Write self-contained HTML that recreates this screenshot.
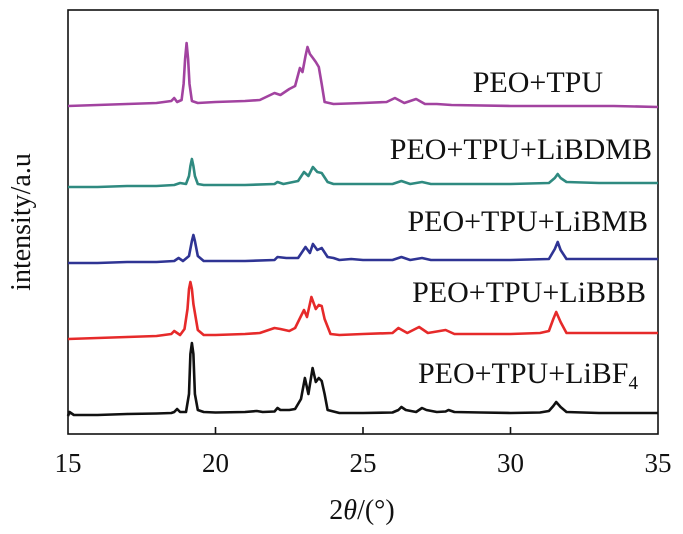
<!DOCTYPE html>
<html><head><meta charset="utf-8">
<style>
html,body{margin:0;padding:0;background:#fff;}
svg{display:block;font-family:"Liberation Serif",serif;}
</style></head>
<body>
<svg id="chart" width="683" height="534" viewBox="0 0 683 534">
  <rect x="68" y="10" width="590" height="424" fill="none" stroke="#111" stroke-width="1.6"/>
  <g id="ticks"></g>
  <g id="series"></g>
  <g font-size="30" fill="#111" text-anchor="end">
    <text x="603" y="92">PEO+TPU</text>
    <text x="652" y="159">PEO+TPU+LiBDMB</text>
    <text x="648" y="231">PEO+TPU+LiBMB</text>
    <text x="646" y="302">PEO+TPU+LiBBB</text>
    <text x="638" y="383">PEO+TPU+LiBF<tspan font-size="19" dy="6">4</tspan></text>
  </g>
  <text x="362" y="519" font-size="28" text-anchor="middle" fill="#111">2<tspan font-style="italic">θ</tspan>/(°)</text>
  <text transform="translate(30,222) rotate(-90)" font-size="28" text-anchor="middle" fill="#111">intensity/a.u</text>
</svg>
<script>
const tickValues = [15, 20, 25, 30, 35];
const tickLabels = ["15", "20", "25", "30", "35"];

const magentaX = [15,16,17,18,18.5,18.6,18.7,18.85,18.92,18.97,19.02,19.07,19.12,19.2,19.4,20,21,21.5,22,22.2,22.5,22.7,22.86,22.95,23.05,23.12,23.2,23.3,23.4,23.5,23.6,23.7,24,25,25.8,26.08,26.4,26.8,27.1,27.5,28,30,32,33.5,35];
const magentaY = [328,329,330,331,333,336,332,334,350,375,391,375,350,333,331,332,333,334,341,339,345,348,366,362,378,387,380,376,372,367,350,332,330,331,332,336,331,335,330,330,329,328,328,328,327];

const tealX = [15,16,17,18,18.6,18.8,19.0,19.1,19.15,19.2,19.25,19.3,19.4,19.6,20,21,22,22.1,22.3,22.8,23.0,23.15,23.3,23.45,23.6,23.8,24,25,26,26.3,26.6,27,27.3,28,30,31.3,31.5,31.6,31.7,31.9,33,35];
const tealY = [247,247,248,248,249,251,250,258,268,275,268,258,250,249,249,249,250,252,250,253,262,258,267,262,261,252,250,250,250,253,250,252,250,250,250,251,256,260,256,252,251,251];

const blueX = [15,16,17,18,18.6,18.75,18.9,19.1,19.2,19.25,19.3,19.4,19.6,20,21,22,22.1,22.4,22.8,23.05,23.2,23.3,23.45,23.6,23.8,24.0,24.2,24.6,25,26,26.3,26.6,27,27.3,28,30,31.3,31.5,31.6,31.7,31.9,33,35];
const blueY = [171,171,172,172,173,176,173,178,193,199,193,178,173,173,173,174,177,176,176,187,181,190,184,186,177,176,174,175,174,174,177,174,176,174,174,174,175,185,192,184,175,175,175];

const redX = [15,16,17,18,18.5,18.6,18.8,18.95,19.05,19.1,19.15,19.2,19.25,19.4,19.6,20,21,21.5,22,22.2,22.5,22.7,22.9,23.0,23.1,23.25,23.4,23.5,23.6,23.7,23.9,24.2,25,26,26.2,26.5,26.9,27.2,27.8,28.1,29,30,31,31.3,31.45,31.55,31.7,31.9,33,35];
const redY = [95,96,97,98,100,103,99,105,125,145,152,145,130,104,99,99,100,101,106,105,103,106,118,124,117,137,125,129,128,115,100,99,100,101,106,101,107,101,104,100,100,100,101,103,115,122,112,101,101,101];

const blackX = [15,15.05,15.2,15.5,16,17,18,18.5,18.6,18.7,18.8,19.0,19.1,19.15,19.2,19.25,19.3,19.4,19.6,20,21,21.4,21.6,22,22.1,22.2,22.5,22.7,22.9,23.03,23.15,23.29,23.4,23.5,23.6,23.7,23.8,24.2,25,26,26.2,26.3,26.45,26.8,27.0,27.15,27.5,27.8,27.9,28.1,29,30,31,31.3,31.45,31.55,31.7,31.9,33,35];
const blackY = [18,22,19,19,19,20,20.5,21,22,25,22,22,40,80,91,80,40,24,22,21.5,22,23,22,22.5,26,24,24,25,35,56,40,66,52,56,53,40,24,21,21,21.5,24,27,24,22,26,24,22,22.5,24,22,21.5,21,21.5,23,28,32,27,22,21,21];

const plot = {l:68, r:658, t:10, b:434};
const xScale = v => plot.l + (v - 15) / (35 - 15) * (plot.r - plot.l);
const yScale = v => plot.b - v / 424 * (plot.b - plot.t);

const svgNS = "http://www.w3.org/2000/svg";
const tickG = document.getElementById('ticks');
tickValues.forEach((tv, i) => {
  const x = xScale(tv);
  if (tv !== 15 && tv !== 35) {
    const t = document.createElementNS(svgNS, 'line');
    
    
    t.setAttribute('x1', x); t.setAttribute('x2', x);
    t.setAttribute('y1', plot.b); t.setAttribute('y2', plot.b - 7);
    t.setAttribute('stroke', '#111'); t.setAttribute('stroke-width', '1.6');
    tickG.appendChild(t);
  }
  const lb = document.createElementNS(svgNS, 'text');
  
  
  lb.setAttribute('x', x); lb.setAttribute('y', 472);
  lb.setAttribute('text-anchor', 'middle');
  lb.setAttribute('font-size', '27');
  lb.setAttribute('fill', '#111');
  lb.textContent = tickLabels[i];
  tickG.appendChild(lb);
});

const seriesG = document.getElementById('series');
function drawSeries(xs, ys, color, name) {
  const pts = xs.map((x, i) => xScale(x).toFixed(1) + ',' + yScale(ys[i]).toFixed(1)).join(' ');
  const pl = document.createElementNS(svgNS, 'polyline');
  
  
  pl.setAttribute('points', pts);
  pl.setAttribute('fill', 'none');
  pl.setAttribute('stroke', color);
  pl.setAttribute('stroke-width', '2.6');
  pl.setAttribute('stroke-linejoin', 'round');
  seriesG.appendChild(pl);
}
drawSeries(magentaX, magentaY, '#a243a0', 'series-peo-tpu');
drawSeries(tealX, tealY, '#2f8a80', 'series-libdmb');
drawSeries(blueX, blueY, '#2f3494', 'series-libmb');
drawSeries(redX, redY, '#e62a2a', 'series-libbb');
drawSeries(blackX, blackY, '#111111', 'series-libf4');
</script>
</body></html>
